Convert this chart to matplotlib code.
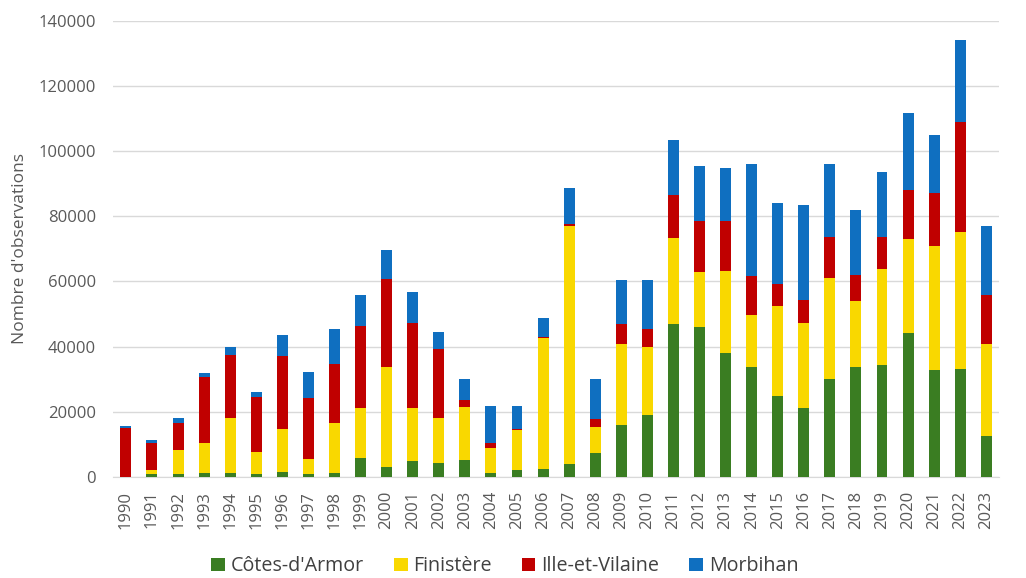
import numpy as np
import matplotlib
matplotlib.use('Agg')
import matplotlib.pyplot as plt
from matplotlib.axes import Axes


years = [str(y) for y in range(1990, 2024)]

cotes_darmor = [
    100, 900, 800, 1200, 1200, 800, 1500, 900, 1200, 5800,
    3100, 4800, 4100, 5300, 1200, 2000, 2500, 4000, 7400, 15800,
    19100, 46800, 45900, 37900, 33700, 24700, 21000, 30100, 33700, 34200,
    44200, 32900, 33200, 12500,
]
finistere = [
    0, 1100, 7400, 9300, 16800, 6700, 13200, 4500, 15200, 15200,
    30700, 16200, 14000, 16200, 7700, 12500, 40000, 72900, 8000, 25000,
    20700, 26400, 16900, 25400, 16100, 27900, 26100, 31000, 20200, 29700,
    28700, 37900, 42000, 28300,
]
ille_et_vilaine = [
    14800, 8500, 8400, 20000, 19400, 17100, 22500, 18700, 18100, 25400,
    26800, 26300, 21200, 2200, 1500, 200, 500, 600, 2400, 6000,
    5600, 13200, 15700, 15200, 11800, 6700, 7300, 12600, 8100, 9800,
    15300, 16400, 33800, 15000,
]
morbihan = [
    800, 800, 1600, 1300, 2400, 1400, 6400, 8000, 10900, 9500,
    8900, 9500, 5200, 6200, 11500, 7200, 5800, 11200, 12100, 13600,
    15000, 16900, 16900, 16400, 34300, 24800, 29200, 22200, 19800, 19800,
    23600, 17600, 25100, 21100,
]

series_names = ["Côtes-d'Armor", 'Finistère', 'Ille-et-Vilaine', 'Morbihan']
series_colors = ['#3A7D22', '#F9D800', '#C00000', '#0F6FC0']

text_color = '#595959'
grid_color = '#D9D9D9'

plt.rcParams['font.family'] = ['Open Sans', 'DejaVu Sans']


def draw_stacked_bars(ax: Axes, font_size=12):
    x = np.arange(len(years))
    bottom = np.zeros(len(years))
    for name, values, color in zip(
        series_names,
        [cotes_darmor, finistere, ille_et_vilaine, morbihan],
        series_colors
    ):
        values = np.array(values, dtype=float)
        ax.bar(x, values, width=0.42, bottom=bottom, color=color, label=name, zorder=3)
        bottom += values

    ax.set_xlim(-0.5, len(years) - 0.5)
    ax.set_ylim(0, 140000)
    ax.set_yticks(np.arange(0, 140001, 20000))
    ax.set_xticks(x, years, rotation=90)

    ax.grid(axis='y', color=grid_color, linewidth=1, zorder=0)
    for side in ['top', 'right', 'left']:
        ax.spines[side].set_visible(False)
    ax.spines['bottom'].set_color(grid_color)
    ax.tick_params(axis='both', length=0, colors=text_color, labelsize=font_size)
    ax.tick_params(axis='y', pad=12)
    ax.tick_params(axis='x', pad=10)

    ax.set_ylabel("Nombre d'observations", color=text_color, fontsize=font_size + 0.5, labelpad=8)


if __name__ == '__main__':
    fig = plt.figure(figsize=(10.26, 5.78), dpi=100)
    ax = fig.add_axes([0.110, 0.175, 0.864, 0.789])
    draw_stacked_bars(ax, font_size=12)

    fig.legend(
        loc='center',
        bbox_to_anchor=(0.492, 0.02),
        ncol=4,
        frameon=False,
        fontsize=14.2,
        handlelength=0.7,
        handleheight=0.7,
        handletextpad=0.3,
        columnspacing=1.5,
        labelcolor='#404040',
    )

    plt.savefig('out.png', dpi=100)
